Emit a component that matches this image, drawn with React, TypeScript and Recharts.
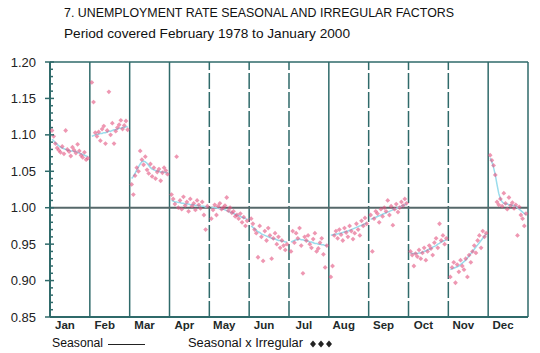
import React from "react";
import {
  ComposedChart,
  Line,
  Scatter,
  XAxis,
  YAxis,
  ReferenceLine,
} from "recharts";

const months = ["Jan", "Feb", "Mar", "Apr", "May", "Jun", "Jul", "Aug", "Sep", "Oct", "Nov", "Dec"];

// Seasonal x Irregular factors, one value per year (22 years) for each month
const siJan = [1.106, 1.098, 1.088, 1.082, 1.079, 1.076, 1.084, 1.074, 1.106, 1.080, 1.077, 1.071, 1.083, 1.079, 1.075, 1.087, 1.078, 1.072, 1.069, 1.076, 1.066, 1.068];
const siFeb = [1.172, 1.145, 1.103, 1.098, 1.104, 1.092, 1.108, 1.112, 1.088, 1.106, 1.159, 1.100, 1.116, 1.088, 1.105, 1.110, 1.114, 1.120, 1.108, 1.113, 1.119, 1.107];
const siMar = [1.032, 1.018, 1.044, 1.055, 1.050, 1.078, 1.066, 1.059, 1.070, 1.052, 1.047, 1.060, 1.043, 1.055, 1.040, 1.049, 1.053, 1.037, 1.048, 1.055, 1.051, 1.046];
const siApr = [1.018, 1.012, 1.005, 1.070, 1.000, 1.010, 0.998, 1.015, 1.003, 1.008, 0.995, 1.012, 1.002, 1.006, 0.997, 1.010, 1.004, 0.999, 1.008, 0.990, 0.970, 1.002];
const siMay = [0.985, 0.997, 1.004, 0.990, 1.002, 1.006, 0.998, 1.000, 1.003, 1.014, 0.996, 1.000, 0.993, 0.995, 0.988, 0.990, 0.985, 0.992, 0.980, 0.987, 0.975, 0.982];
const siJun = [0.985, 0.978, 0.970, 0.965, 0.932, 0.975, 0.960, 0.927, 0.968, 0.955, 0.972, 0.962, 0.930, 0.958, 0.965, 0.950, 0.960, 0.945, 0.955, 0.948, 0.942, 0.950];
const siJul = [0.940, 0.968, 0.952, 0.965, 0.958, 0.972, 0.948, 0.910, 0.960, 0.955, 0.962, 0.950, 0.945, 0.957, 0.965, 0.940, 0.944, 0.952, 0.958, 0.936, 0.918, 0.948];
const siAug = [0.905, 0.920, 0.962, 0.968, 0.958, 0.970, 0.963, 0.955, 0.972, 0.966, 0.960, 0.975, 0.968, 0.957, 0.965, 0.978, 0.970, 0.962, 0.982, 0.975, 0.986, 0.978];
const siSep = [0.990, 0.940, 0.985, 0.995, 0.992, 0.980, 0.998, 0.988, 1.000, 0.995, 1.010, 0.990, 1.002, 0.976, 0.998, 1.005, 0.994, 1.000, 1.008, 1.003, 1.012, 1.006];
const siOct = [0.940, 0.935, 0.920, 0.937, 0.933, 0.942, 0.930, 0.938, 0.945, 0.928, 0.940, 0.948, 0.944, 0.935, 0.952, 0.958, 0.945, 0.978, 0.955, 0.962, 0.950, 0.958];
const siNov = [0.905, 0.918, 0.925, 0.897, 0.922, 0.912, 0.928, 0.920, 0.915, 0.930, 0.905, 0.935, 0.925, 0.940, 0.948, 0.938, 0.955, 0.962, 0.945, 0.968, 0.960, 0.965];
const siDec = [1.072, 1.065, 1.058, 1.045, 1.008, 1.004, 1.012, 1.002, 1.020, 1.006, 0.998, 1.014, 1.003, 1.007, 0.999, 1.004, 0.962, 1.001, 0.990, 0.985, 0.975, 0.992];

// Seasonal factors
const sJan = [1.094, 1.092, 1.089, 1.087, 1.085, 1.083, 1.082, 1.081, 1.080, 1.079, 1.079, 1.078, 1.078, 1.077, 1.077, 1.076, 1.075, 1.074, 1.073, 1.072, 1.071, 1.070];
const sFeb = [1.098, 1.099, 1.100, 1.101, 1.101, 1.102, 1.102, 1.103, 1.103, 1.104, 1.105, 1.105, 1.106, 1.107, 1.107, 1.108, 1.109, 1.109, 1.110, 1.110, 1.111, 1.111];
const sMar = [1.040, 1.043, 1.047, 1.052, 1.056, 1.060, 1.063, 1.064, 1.063, 1.061, 1.058, 1.055, 1.053, 1.052, 1.051, 1.050, 1.050, 1.049, 1.049, 1.049, 1.048, 1.048];
const sApr = [1.010, 1.009, 1.008, 1.008, 1.007, 1.007, 1.006, 1.006, 1.005, 1.005, 1.005, 1.004, 1.004, 1.004, 1.003, 1.003, 1.003, 1.002, 1.002, 1.002, 1.001, 1.001];
const sMay = [1.000, 1.000, 1.000, 1.000, 0.999, 0.999, 0.998, 0.998, 0.997, 0.996, 0.995, 0.994, 0.993, 0.992, 0.991, 0.990, 0.989, 0.988, 0.987, 0.986, 0.985, 0.984];
const sJun = [0.975, 0.973, 0.971, 0.969, 0.967, 0.966, 0.964, 0.963, 0.962, 0.961, 0.960, 0.959, 0.958, 0.957, 0.957, 0.956, 0.955, 0.955, 0.954, 0.954, 0.953, 0.953];
const sJul = [0.953, 0.954, 0.955, 0.956, 0.956, 0.957, 0.956, 0.956, 0.955, 0.955, 0.954, 0.953, 0.953, 0.952, 0.951, 0.951, 0.950, 0.950, 0.949, 0.949, 0.948, 0.948];
const sAug = [0.962, 0.963, 0.963, 0.964, 0.964, 0.965, 0.965, 0.966, 0.967, 0.967, 0.968, 0.969, 0.970, 0.971, 0.972, 0.973, 0.974, 0.975, 0.976, 0.977, 0.978, 0.979];
const sSep = [0.984, 0.985, 0.986, 0.987, 0.988, 0.989, 0.990, 0.991, 0.992, 0.993, 0.994, 0.995, 0.996, 0.997, 0.998, 0.999, 1.000, 1.001, 1.002, 1.003, 1.004, 1.005];
const sOct = [0.938, 0.937, 0.937, 0.937, 0.937, 0.938, 0.938, 0.939, 0.940, 0.941, 0.942, 0.943, 0.944, 0.946, 0.947, 0.948, 0.950, 0.951, 0.953, 0.954, 0.955, 0.956];
const sNov = [0.915, 0.916, 0.917, 0.918, 0.919, 0.920, 0.922, 0.924, 0.926, 0.928, 0.931, 0.934, 0.937, 0.940, 0.943, 0.946, 0.949, 0.952, 0.955, 0.958, 0.961, 0.964];
const sDec = [1.068, 1.063, 1.055, 1.045, 1.032, 1.020, 1.012, 1.008, 1.006, 1.005, 1.005, 1.004, 1.004, 1.003, 1.003, 1.002, 1.000, 0.998, 0.996, 0.994, 0.992, 0.990];

const siByMonth = [siJan, siFeb, siMar, siApr, siMay, siJun, siJul, siAug, siSep, siOct, siNov, siDec];
const sByMonth = [sJan, sFeb, sMar, sApr, sMay, sJun, sJul, sAug, sSep, sOct, sNov, sDec];

const yMajorTicks = [0.85, 0.9, 0.95, 1.0, 1.05, 1.1, 1.15, 1.2];
const yAllTicks = [
  0.85, 0.86, 0.87, 0.88, 0.89, 0.9, 0.91, 0.92, 0.93, 0.94, 0.95, 0.96, 0.97, 0.98, 0.99,
  1.0, 1.01, 1.02, 1.03, 1.04, 1.05, 1.06, 1.07, 1.08, 1.09, 1.1, 1.11, 1.12, 1.13, 1.14,
  1.15, 1.16, 1.17, 1.18, 1.19, 1.2,
];
const xMonthTicks = [0.5, 1.5, 2.5, 3.5, 4.5, 5.5, 6.5, 7.5, 8.5, 9.5, 10.5, 11.5];
const separators = [1, 2, 3, 4, 5, 6, 7, 8, 9, 10, 11];

const pos = (m: number, i: number, n: number) => m + 0.05 + (i * 0.9) / (n - 1);

const lineRows: { x: number; s: number | null }[] = [];
const siRows: { x: number; v: number }[] = [];
sByMonth.forEach((arr, m) => {
  arr.forEach((s, i) => lineRows.push({ x: pos(m, i, arr.length), s }));
  lineRows.push({ x: m + 0.99, s: null });
});
siByMonth.forEach((arr, m) => {
  arr.forEach((v, i) => siRows.push({ x: pos(m, i, arr.length), v }));
});

const AXIS = "#2f6a6a";
const FONT = "'Liberation Sans', Arial, sans-serif";

const YTick = (props: any) => {
  const { x, y, payload } = props;
  const v = payload.value as number;
  const major = yMajorTicks.some((t) => Math.abs(t - v) < 1e-6);
  return (
    <g>
      {major ? (
        <>
          <line x1={x - 5} x2={x + 4} y1={y} y2={y} stroke={AXIS} strokeWidth={1.5} />
          <text x={x - 14} y={y + 4.5} textAnchor="end" fontSize={13} fontFamily={FONT} fill="#222">
            {v.toFixed(2)}
          </text>
        </>
      ) : (
        <line x1={x} x2={x + 3} y1={y} y2={y} stroke={AXIS} strokeWidth={1.5} />
      )}
    </g>
  );
};

const XTick = (props: any) => {
  const { x, y, payload } = props;
  const idx = Math.round(payload.value - 0.5);
  return (
    <text x={x - 5} y={y + 12} textAnchor="middle" fontSize={11.5} fontWeight="bold" fontFamily={FONT} fill="#1e2a2a">
      {months[idx]}
    </text>
  );
};

const Diamond = (props: any) => {
  const { cx, cy } = props;
  if (cx == null || cy == null) return null;
  const r = 2.4;
  return (
    <path
      d={`M${cx},${cy - r}L${cx + r},${cy}L${cx},${cy + r}L${cx - r},${cy}Z`}
      fill="#e2527f"
      fillOpacity={0.6}
    />
  );
};

const solidSep = [1, 2, 3, 7, 11];

export default function App() {
  return (
    <div style={{ position: "fixed", left: 0, top: 0, width: 540, height: 353, background: "#fff" }}>
      <ComposedChart
        width={540}
        height={353}
        data={lineRows}
        margin={{ top: 62, right: 12, left: 0, bottom: 6 }}
      >
        <XAxis
          dataKey="x"
          type="number"
          domain={[0, 12]}
          ticks={xMonthTicks}
          tick={<XTick />}
          tickLine={false}
          tickSize={0}
          tickMargin={0}
          height={30}
          axisLine={{ stroke: AXIS, strokeWidth: 2 }}
          allowDataOverflow
        />
        <YAxis
          type="number"
          domain={[0.85, 1.2]}
          ticks={yAllTicks}
          tick={<YTick />}
          tickLine={false}
          tickSize={0}
          tickMargin={0}
          width={50}
          interval={0}
          axisLine={{ stroke: AXIS, strokeWidth: 2 }}
          allowDataOverflow
        />
        <ReferenceLine y={1.2} stroke={AXIS} strokeWidth={1.5} />
        <ReferenceLine x={12} stroke={AXIS} strokeWidth={1.5} />
        {separators.map((k) => (
          <ReferenceLine
            key={k}
            x={k}
            stroke={AXIS}
            strokeWidth={1.5}
            strokeDasharray={solidSep.includes(k) ? undefined : "16 3"}
          />
        ))}
        <ReferenceLine y={1.0} stroke="#56686a" strokeWidth={2} />
        <Line
          dataKey="s"
          stroke="#9adcec"
          strokeWidth={1.5}
          dot={false}
          connectNulls={false}
          isAnimationActive={false}
        />
        <Scatter data={siRows} dataKey="v" shape={<Diamond />} isAnimationActive={false} />
      </ComposedChart>
      <svg
        width={540}
        height={353}
        style={{ position: "absolute", left: 0, top: 0, pointerEvents: "none" }}
      >
        <text x={64} y={17} fontSize={13} fontFamily={FONT} fill="#111" textLength={390} lengthAdjust="spacingAndGlyphs">
          7. UNEMPLOYMENT RATE SEASONAL AND IRREGULAR FACTORS
        </text>
        <text x={64} y={37.5} fontSize={13} fontFamily={FONT} fill="#111" textLength={286} lengthAdjust="spacingAndGlyphs">
          Period covered February 1978 to January 2000
        </text>
        <text x={52} y={347} fontSize={12.5} fontFamily={FONT} fill="#111" textLength={51} lengthAdjust="spacingAndGlyphs">
          Seasonal
        </text>
        <line x1={108} x2={145} y1={344.5} y2={344.5} stroke="#222" strokeWidth={1.2} />
        <text x={188} y={347} fontSize={12.5} fontFamily={FONT} fill="#111" textLength={115} lengthAdjust="spacingAndGlyphs">
          Seasonal x Irregular
        </text>
        {[313, 321, 329].map((cx) => (
          <path key={cx} d={`M${cx},${340.5}L${cx + 3},${344}L${cx},${347.5}L${cx - 3},${344}Z`} fill="#222" />
        ))}
      </svg>
    </div>
  );
}
